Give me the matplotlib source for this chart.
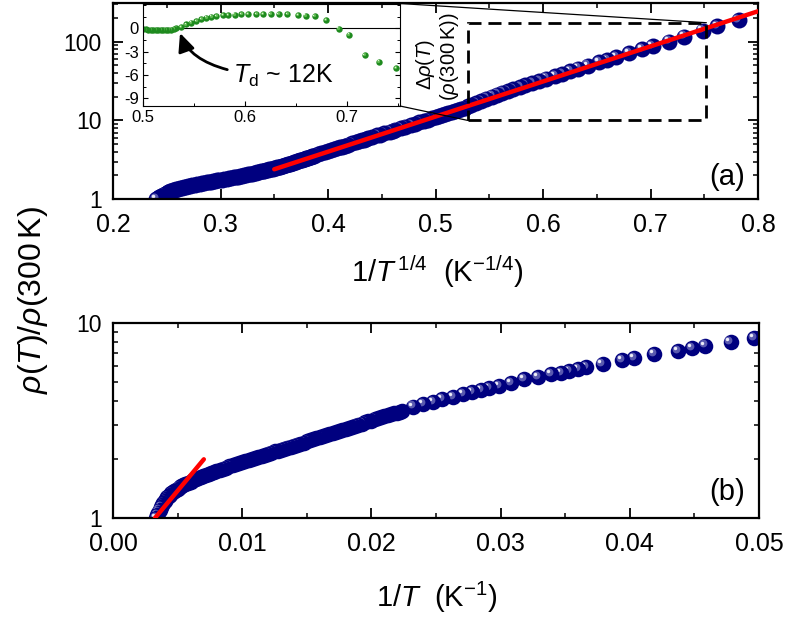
import numpy as np
import matplotlib.pyplot as plt
from matplotlib.patches import Rectangle, ConnectionPatch
from matplotlib.transforms import offset_copy
from matplotlib.ticker import MultipleLocator, FixedLocator, LogLocator, FuncFormatter, NullFormatter

plt.rcParams['font.family'] = ['Liberation Sans', 'DejaVu Sans']
plt.rcParams['mathtext.fontset'] = 'custom'
plt.rcParams['mathtext.rm'] = 'Liberation Sans'
plt.rcParams['mathtext.it'] = 'Liberation Sans:italic'
plt.rcParams['mathtext.bf'] = 'Liberation Sans:bold'
plt.rcParams['axes.unicode_minus'] = False

temperature_K = [
    300.0, 292.8, 285.7, 277.8, 270.3, 263.2, 256.4, 250.0, 243.9, 238.1,
    232.6, 227.3, 222.2, 216.2, 210.5, 205.1, 200.0, 194.2, 188.7, 183.5,
    178.6, 172.4, 166.7, 161.3, 156.3, 151.5, 147.1, 142.9, 138.9, 135.1,
    131.6, 128.2, 125.0, 121.2, 117.6, 114.3, 111.1, 108.1, 105.3, 102.6,
    100.0, 97.56, 95.24, 93.02, 90.91, 88.89, 86.96, 85.11, 83.33, 81.63,
    80.00, 78.43, 76.92, 75.47, 74.07, 72.73, 71.43, 70.18, 68.97, 67.80,
    66.67, 65.57, 64.52, 63.49, 62.50, 61.54, 60.61, 59.70, 58.82, 57.97,
    57.14, 56.34, 55.56, 54.79, 54.05, 53.33, 52.63, 51.95, 51.28, 50.63,
    50.00, 49.38, 48.78, 48.19, 47.62, 47.06, 46.51, 45.98, 45.45, 45.05,
    44.64, 43.10, 41.67, 40.32, 39.22, 38.02, 36.90, 35.97, 35.09, 34.36,
    33.44, 32.47, 31.45, 30.40, 29.50, 28.82, 28.33, 27.78, 27.32, 26.39,
    25.38, 24.81, 23.87, 22.88, 22.32, 21.83, 20.92, 20.16,
    19.32, 18.68, 18.07, 17.49, 16.93, 16.39,
    16.00, 15.62, 15.25, 14.90, 14.55, 14.22, 13.89, 13.57, 13.26, 12.96,
    12.67, 12.42, 11.97, 11.55, 11.14, 10.74, 10.37, 10.01, 9.669, 9.342,
    8.935, 8.638, 8.258, 7.899, 7.564, 7.166, 6.873, 6.545, 6.229, 5.901,
    5.534, 5.286, 5.013, 4.682, 4.363, 4.118, 3.777, 3.494, 3.188, 2.972,
    2.674,
]
rho_norm = [
    1.000, 1.033, 1.067, 1.100, 1.135, 1.166, 1.197, 1.223, 1.250, 1.274,
    1.297, 1.317, 1.337, 1.358, 1.380, 1.398, 1.416, 1.435, 1.455, 1.474,
    1.493, 1.515, 1.538, 1.560, 1.581, 1.602, 1.622, 1.643, 1.663, 1.683,
    1.702, 1.722, 1.742, 1.766, 1.791, 1.814, 1.837, 1.860, 1.884, 1.908,
    1.932, 1.957, 1.982, 2.007, 2.032, 2.058, 2.084, 2.111, 2.138, 2.165,
    2.193, 2.218, 2.244, 2.270, 2.296, 2.323, 2.350, 2.377, 2.404, 2.438,
    2.472, 2.500, 2.529, 2.559, 2.588, 2.621, 2.655, 2.689, 2.723, 2.758,
    2.793, 2.828, 2.864, 2.901, 2.938, 2.975, 3.013, 3.051, 3.090, 3.126,
    3.162, 3.203, 3.243, 3.281, 3.319, 3.357, 3.396, 3.436, 3.475, 3.508,
    3.540, 3.724, 3.846, 3.945, 4.074, 4.188, 4.325, 4.416, 4.529, 4.624,
    4.753, 4.909, 5.140, 5.272, 5.470, 5.559, 5.675, 5.794, 5.929, 6.166,
    6.457, 6.592, 6.902, 7.211, 7.413, 7.656, 8.017, 8.337,
    8.70, 9.07, 9.45, 9.85, 10.27, 10.70,
    10.99, 11.34, 11.70, 12.05, 12.41, 12.79, 13.17, 13.59, 14.05, 14.54,
    15.10, 15.61, 16.62, 17.76, 18.88, 20.06, 21.26, 22.51, 23.74, 24.97,
    26.68, 27.97, 29.86, 31.89, 33.97, 36.84, 39.22, 42.23, 45.65, 49.66,
    54.95, 59.16, 64.58, 71.99, 80.28, 88.31, 100.9, 116.3, 138.6, 158.0,
    191.0,
]

# straight-line fits (end points)
vrh_fit_x = [0.35, 0.80]
vrh_fit_y = [2.39, 245.0]
arr_fit_x = [0.00325, 0.00703]
arr_fit_y = [1.0, 2.0]

# inset: deviation from the VRH fit
inset_x = [0.4975, 0.500, 0.5025, 0.505, 0.5075, 0.510, 0.5125, 0.515, 0.5175, 0.520,
           0.5225, 0.525, 0.5275, 0.530, 0.5327, 0.5376, 0.5425, 0.5474, 0.5524, 0.5573,
           0.5622, 0.5671, 0.5720, 0.5784, 0.5833, 0.5899, 0.5965, 0.6030, 0.6112, 0.6176,
           0.6252, 0.6330, 0.6416, 0.6520, 0.6595, 0.6683, 0.6798, 0.6919, 0.7020, 0.7173,
           0.7314, 0.7484]
inset_delta = [-0.12, -0.13, -0.14, -0.15, -0.16, -0.18, -0.20, -0.22, -0.24, -0.25,
               -0.25, -0.22, -0.17, -0.08, 0.00, 0.20, 0.50, 0.72, 0.94, 1.16,
               1.37, 1.50, 1.58, 1.70, 1.70, 1.75, 1.80, 1.80, 1.84, 1.84,
               1.80, 1.84, 1.80, 1.67, 1.62, 1.58, 1.07, -0.05, -0.82, -3.43,
               -4.29, -5.14]

# zoomed region marked in panel (a)
zoom_x = [0.53, 0.752]
zoom_y = [10.0, 175.0]

T = np.array(temperature_K)
rho = np.array(rho_norm)


def draw_balls(ax, xs, ys, ms, body, shade, glint):
    # shaded "sphere" markers, drawn one by one so each ball sits over the last
    sh = offset_copy(ax.transData, fig=ax.figure, x=-0.14 * ms, y=0.14 * ms, units='points')
    gl = offset_copy(ax.transData, fig=ax.figure, x=-0.2 * ms, y=0.2 * ms, units='points')
    for x, y in zip(xs[::-1], ys[::-1]):
        ax.plot(x, y, 'o', ms=ms, color=body, mew=0, zorder=2)
        ax.plot(x, y, 'o', ms=ms * 0.5, color=shade, mew=0, alpha=0.85, transform=sh, zorder=2)
        ax.plot(x, y, 'o', ms=ms * 0.22, color=glint, mew=0, transform=gl, zorder=2)


def style_axis(ax):
    for s in ax.spines.values():
        s.set_linewidth(1.6)
    ax.tick_params(which='both', direction='in', top=True, right=True)
    ax.tick_params(axis='x', labelsize=18, pad=10)
    ax.tick_params(axis='y', labelsize=16.5, pad=8)
    ax.tick_params(which='major', length=7, width=1.3)
    ax.tick_params(which='minor', length=3.5, width=1.1)
    ax.yaxis.set_major_formatter(FuncFormatter(lambda v, _: f'{v:g}'))
    ax.yaxis.set_minor_formatter(NullFormatter())


W, H = 789, 618


def px_box(x0, y0, x1, y1):
    return [x0 / W, 1 - y1 / H, (x1 - x0) / W, (y1 - y0) / H]


fig = plt.figure(figsize=(7.89, 6.18), dpi=100)
ax_a = fig.add_axes(px_box(113, 3, 758, 199))
ax_b = fig.add_axes(px_box(113, 323, 759, 518))
ax_in = fig.add_axes(px_box(143, 3.5, 400, 106))

# panel (a): 1/T^(1/4)
ax_a.set_yscale('log')
ax_a.set_xlim(0.2, 0.8)
ax_a.set_ylim(1, 312)
draw_balls(ax_a, T ** -0.25, rho, 11.5, '#00007f', '#6a6ab8', '#ececf7')
ax_a.plot(vrh_fit_x, vrh_fit_y, color='red', lw=3.2, solid_capstyle='round', zorder=5)
ax_a.add_patch(Rectangle((zoom_x[0], zoom_y[0]), zoom_x[1] - zoom_x[0], zoom_y[1] - zoom_y[0],
                         fill=False, ec='black', lw=2.0, ls=(0, (4.7, 2.5)), zorder=6))
ax_a.xaxis.set_major_locator(MultipleLocator(0.1))
ax_a.xaxis.set_minor_locator(MultipleLocator(0.05))
ax_a.yaxis.set_minor_locator(LogLocator(base=10, subs=np.arange(2, 10), numticks=12))
style_axis(ax_a)
fig.text(727 / W, 1 - 177 / H, '(a)', fontsize=21, ha='center', va='center')

# panel (b): 1/T
ax_b.set_yscale('log')
ax_b.set_xlim(0, 0.05)
ax_b.set_ylim(1, 10)
draw_balls(ax_b, 1 / T, rho, 11.2, '#00007f', '#6a6ab8', '#ececf7')
ax_b.plot(arr_fit_x, arr_fit_y, color='red', lw=3.2, solid_capstyle='round', zorder=5)
ax_b.xaxis.set_major_locator(MultipleLocator(0.01))
ax_b.xaxis.set_minor_locator(MultipleLocator(0.005))
ax_b.xaxis.set_major_formatter(FuncFormatter(lambda v, _: f'{v:.2f}'))
ax_b.yaxis.set_minor_locator(LogLocator(base=10, subs=np.arange(2, 10), numticks=12))
style_axis(ax_b)
fig.text(727 / W, 1 - 492 / H, '(b)', fontsize=21, ha='center', va='center')

# inset
ax_in.set_facecolor('none')
ax_in.set_xlim(0.5, 0.752)
ax_in.set_ylim(-10.0, 3.2)
ax_in.axhline(0, color='black', lw=0.8, zorder=1)
draw_balls(ax_in, np.array(inset_x), np.array(inset_delta), 4.6, '#1e8a1e', '#6cc45c', '#d8f5d0')
for s in ax_in.spines.values():
    s.set_linewidth(0.8)
ax_in.xaxis.set_major_locator(MultipleLocator(0.1))
ax_in.xaxis.set_minor_locator(MultipleLocator(0.05))
ax_in.yaxis.set_major_locator(FixedLocator([-9, -6, -3, 0]))
ax_in.yaxis.set_minor_locator(MultipleLocator(1.5))
ax_in.tick_params(which='both', direction='in', right=True, labelsize=12, pad=3)
ax_in.tick_params(which='major', length=3.5, width=0.8)
ax_in.tick_params(which='minor', length=2, width=0.7)
ax_in.xaxis.set_major_formatter(FuncFormatter(lambda v, _: f'{v:g}'))
ax_in.annotate(r'$T_{\mathrm{d}}$ ~ 12K', xy=(0.5363, -0.6), xytext=(0.588, -6.1),
               fontsize=18, ha='left', va='center',
               arrowprops=dict(arrowstyle='-|>,head_length=0.55,head_width=0.25',
                               connectionstyle='angle3,angleA=0,angleB=110',
                               color='black', lw=2, mutation_scale=20, shrinkA=2, shrinkB=0))

fig.text(426 / W, 1 - 64 / H, r'$\Delta\rho(T)$', rotation=90, fontsize=14.5, ha='center', va='center')
fig.text(449 / W, 1 - 57 / H, r'$(\rho(\mathit{300}\,\mathrm{K}))$', rotation=90, fontsize=14.5,
         ha='center', va='center')

# lines joining inset and marked region
fig.add_artist(ConnectionPatch(xyA=(1, 1), coordsA=ax_in.transAxes, xyB=(zoom_x[1], zoom_y[1]),
                               coordsB=ax_a.transData, color='black', lw=0.9))
fig.add_artist(ConnectionPatch(xyA=(1, 0), coordsA=ax_in.transAxes, xyB=(zoom_x[0], zoom_y[0]),
                               coordsB=ax_a.transData, color='black', lw=0.9))

# axis labels
fig.text(437 / W, 1 - 272 / H, r'$\mathit{1/T}^{\,\mathit{1/4}}$  (K$^{-1/4}$)', fontsize=21,
         ha='center', va='center')
fig.text(437 / W, 1 - 597 / H, r'$\mathit{1/T}$  (K$^{-1}$)', fontsize=21, ha='center', va='center')
fig.text(33 / W, 1 - 300 / H, r'$\rho(T)/\rho(\mathit{300}\,\mathrm{K})$', fontsize=23,
         rotation=90, ha='center', va='center')

fig.savefig('out.png', dpi=100)
